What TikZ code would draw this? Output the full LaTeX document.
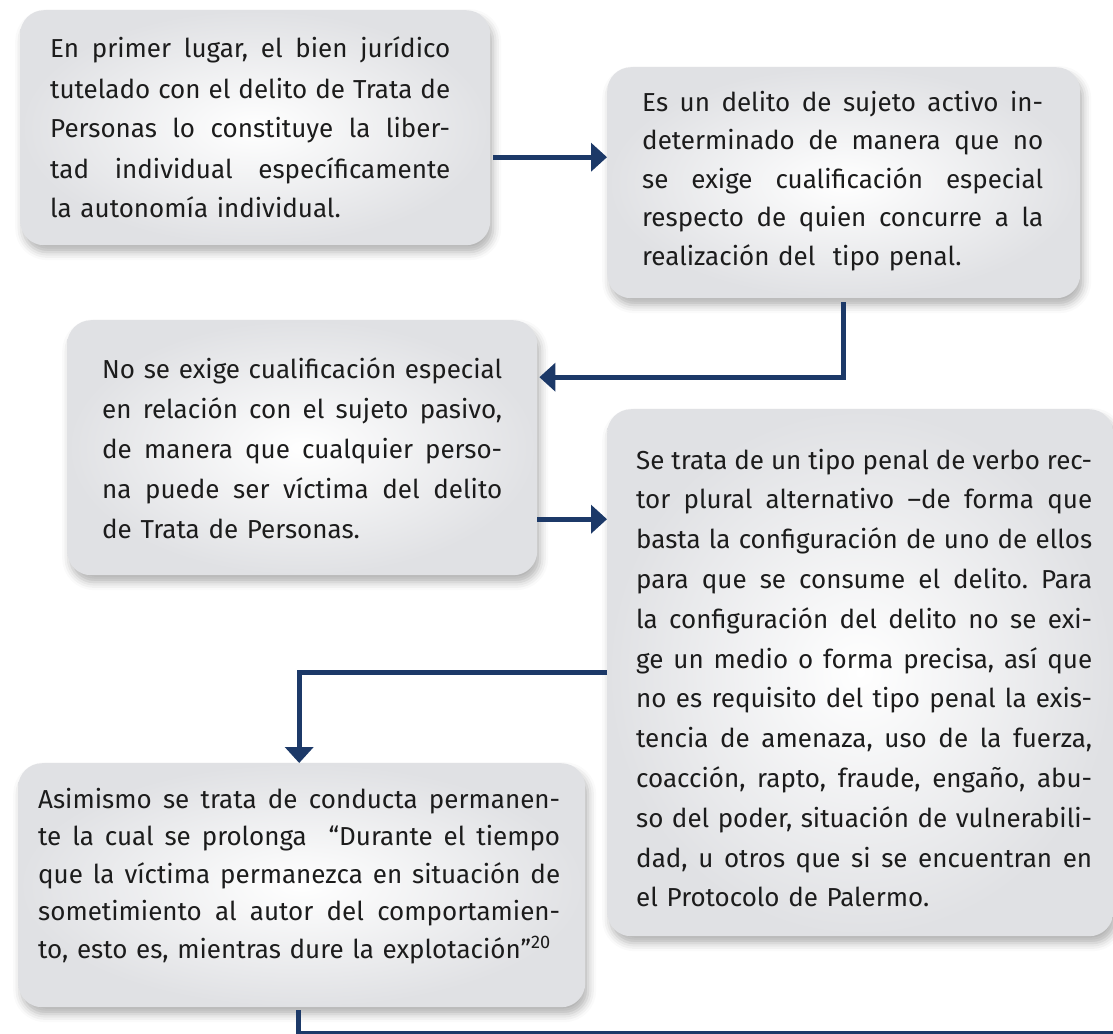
\documentclass[tikz,border=0pt]{standalone}
\usepackage{fontspec}
\setmainfont{Fira Sans}
\usetikzlibrary{positioning,arrows.meta,shadows.blur}

\definecolor{azulFlecha}{RGB}{28,57,104}
\definecolor{grisCaja}{RGB}{224,225,228}
\definecolor{tinta}{RGB}{28,28,28}

% one justified line of a box
\newlength{\anchoTexto}
\newcommand{\renglon}[1]{\leavevmode\hbox to \anchoTexto{\spaceskip=0.25em plus 1fil minus 0.13em\relax #1}\\}

\begin{document}
\frenchspacing
\begin{tikzpicture}[
    x=1pt, y=-1pt,
    caja/.style  ={rounded corners=24pt, inner color=white, outer color=grisCaja, anchor=north west, inner sep=0pt,
                   blur shadow={shadow xshift=3pt, shadow yshift=-7pt, shadow blur radius=8pt, shadow opacity=30}},
    texto/.style n args={2}{anchor=base west, inner sep=0pt, text width=#1, align=left, text=tinta,
                   font=\fontsize{26}{#2}\selectfont, execute at begin node={\setlength{\anchoTexto}{#1}}},
    flecha/.style={line width=5pt, draw=azulFlecha, -{Triangle[length=16pt,width=28pt]}},
    linea/.style ={line width=5pt, draw=azulFlecha},
]

\useasboundingbox (0,0) rectangle (1113,1033);

% ---------- Boxes ----------
\node[caja, minimum width=470pt, minimum height=235pt] (caja1) at (20,10)  {};
\node[caja, minimum width=473pt, minimum height=231pt] (caja2) at (607,67) {};
\node[caja, minimum width=470pt, minimum height=255pt] (caja3) at (67,320) {};
\node[caja, minimum width=506pt, minimum height=527pt] (caja4) at (607,409) {};
\node[caja, minimum width=567pt, minimum height=244pt] (caja5) at (18,763) {};

% ---------- Texts ----------
\node[texto={400pt}{40}] (texto1) at ([xshift=30pt,yshift=-48pt]caja1.north west) {%
  \renglon{En primer lugar, el bien jurídico}
  \renglon{tutelado con el delito de Trata de}
  \renglon{Personas lo constituye la liber-}
  \renglon{tad individual específicamente}
  la autonomía individual.};

\node[texto={401pt}{38.5}] (texto2) at ([xshift=35pt,yshift=-44pt]caja2.north west) {%
  \renglon{Es un delito de sujeto activo in-}
  \renglon{determinado de manera que no}
  \renglon{se exige cualificación especial}
  \renglon{respecto de quien concurre a la}
  realización del\ \ tipo penal.};

\node[texto={400pt}{40}] (texto3) at ([xshift=35pt,yshift=-58pt]caja3.north west) {%
  \renglon{No se exige cualificación especial}
  \renglon{en relación con el sujeto pasivo,}
  \renglon{de manera que cualquier perso-}
  \renglon{na puede ser víctima del delito}
  de Trata de Personas.};

\node[texto={456pt}{39.8}] (texto4) at ([xshift=29pt,yshift=-60pt]caja4.north west) {%
  \renglon{Se trata de un tipo penal de verbo rec-}
  \renglon{tor plural alternativo –de forma que}
  \renglon{basta la configuración de uno de ellos}
  \renglon{para que se consume el delito. Para}
  \renglon{la configuración del delito no se exi-}
  \renglon{ge un medio o forma precisa, así que}
  \renglon{no es requisito del tipo penal la exis-}
  \renglon{tencia de amenaza, uso de la fuerza,}
  \renglon{coacción, rapto, fraude, engaño, abu-}
  \renglon{so del poder, situación de vulnerabili-}
  \renglon{dad, u otros que si se encuentran en}
  el Protocolo de Palermo.};

\node[texto={522pt}{37.5}] (texto5) at ([xshift=20pt,yshift=-45pt]caja5.north west) {%
  \renglon{Asimismo se trata de conducta permanen-}
  \renglon{te la cual se prolonga\ \ “Durante el tiempo}
  \renglon{que la víctima permanezca en situación de}
  \renglon{sometimiento al autor del comportamien-}
  to, esto es, mientras dure la explotación”\textsuperscript{20}};

% ---------- Connectors ----------
\draw[flecha] ([xshift=3pt,yshift=-29.5pt]caja1.east) -- ([yshift=25.5pt]caja2.west);
\draw[flecha] ([yshift=-4pt]caja2.south) |- ([xshift=2pt,yshift=70.5pt]caja3.east);
\draw[flecha] ([yshift=-71.5pt]caja3.east) -- ([yshift=153.5pt]caja4.west);
\draw[flecha] (caja4.west) -| ([xshift=-2.5pt]caja5.north);

% leaves the page at the bottom right
\coordinate (salida) at (1113,1033);
\draw[linea] ([xshift=-3.5pt,yshift=-3pt]caja5.south) |- (salida);

\end{tikzpicture}
\end{document}
